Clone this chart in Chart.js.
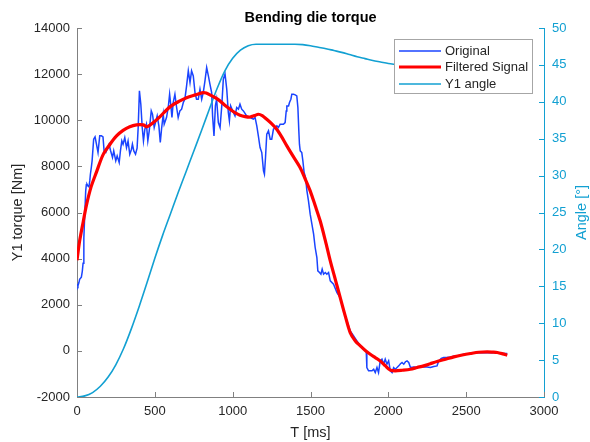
<!DOCTYPE html>
<html>
<head>
<meta charset="utf-8">
<script src="https://cdn.jsdelivr.net/npm/chart.js@4.4.1/dist/chart.umd.min.js"></script>
<style>
  html, body { margin: 0; padding: 0; background: #ffffff; }
  #wrap { width: 590px; height: 442px; }
</style>
</head>
<body>
<div id="wrap"><canvas id="c" width="590" height="442"></canvas></div>
<script>
// ---------- DATA ----------
const TITLE = 'Bending die torque';
const X_LABEL = 'T [ms]';
const Y_LABEL = 'Y1 torque [Nm]';
const Y2_LABEL = 'Angle [°]';
const SERIES_NAMES = ['Original', 'Filtered Signal', 'Y1 angle'];

const X_TICKS = [0, 500, 1000, 1500, 2000, 2500, 3000];
const Y_TICKS = [-2000, 0, 2000, 4000, 6000, 8000, 10000, 12000, 14000];
const Y2_TICKS = [0, 5, 10, 15, 20, 25, 30, 35, 40, 45, 50];

// Original torque signal (time ms, torque Nm)
const ORIG_T = [0,6,12,17,28,34,39,44,50,56,60,64,70,77,82,86,92,97,107,116,125,135,146,157,167,174,185,193,206,215,228,236,249,258,271,279,288,296,307,318,328,339,350,356,365,376,386,393,401,410,419,427,436,446,455,464,477,485,496,507,515,526,535,543,554,560,575,586,595,603,610,618,629,640,650,661,672,683,693,704,715,726,736,747,758,768,779,790,801,811,822,833,844,854,865,871,880,889,897,908,919,930,940,951,962,972,979,987,1000,1015,1026,1037,1047,1058,1069,1090,1112,1133,1144,1155,1165,1176,1187,1198,1204,1211,1219,1230,1241,1251,1262,1273,1284,1294,1305,1316,1326,1337,1344,1348,1359,1365,1374,1380,1391,1402,1412,1419,1425,1429,1434,1444,1451,1459,1468,1477,1487,1498,1509,1520,1530,1541,1547,1558,1567,1575,1584,1595,1605,1616,1627,1648,1670,1691,1712,1734,1755,1777,1798,1820,1841,1858,1862,1873,1895,1906,1916,1927,1937,1948,1959,1970,1980,1991,2002,2013,2024,2034,2045,2067,2078,2088,2099,2110,2120,2131,2142,2163,2185,2206,2227,2249,2270,2292,2313,2324,2340,2356,2378,2399,2420,2442,2463,2485,2506,2528,2560,2592,2625,2657,2690,2721,2745,2764];
const ORIG_V = [2900,2820,2950,3100,3200,3450,3800,4900,5950,6950,7200,7225,7150,7110,7370,7660,7950,8238,9179,9280,8960,8600,9323,9323,9280,8670,8600,8743,8960,8700,8383,8670,8238,8455,8166,8670,9106,8960,9250,8815,9106,8527,8743,8960,8670,8527,8787,9684,11274,10696,9684,9106,9612,9829,9106,9540,10407,10262,9684,9973,10190,9757,9034,9612,10262,9829,10118,10552,11130,10624,10118,10769,11130,10552,10118,10407,10479,10768,10912,11490,12141,11635,12141,11923,11201,10912,10912,11345,10912,11201,11707,12285,11923,11563,11201,10190,9322,10624,10912,9901,9684,10624,11779,12002,11345,10334,9973,10624,10407,10190,10552,10479,10696,10479,10407,10190,10117,10045,10117,9756,9322,8817,8600,7805,7661,8384,9395,9540,9178,9178,9612,9684,9756,9684,9829,9829,9829,9901,10406,10623,10623,10768,10912,11129,11129,11100,11057,10551,9540,8962,8673,8600,8239,7733,7517,6939,6505,5927,5493,5060,4482,4048,3470,3398,3326,3543,3326,3398,3326,3398,3037,2890,2530,2310,1734,1300,867,650,434,217,72,0,-722,-867,-867,-800,-939,-722,-939,-433,-361,-578,-361,-578,-433,-867,-939,-722,-795,-650,-560,-505,-578,-470,-433,-505,-722,-700,-722,-680,-694,-700,-722,-680,-650,-433,-330,-289,-280,-260,-230,-217,-190,-145,-130,-115,-90,-72,-80,-72,-85,-100,-110,-115];

// Filtered torque signal
const FILT_T = [0,17,40,60,90,125,167,211,254,296,339,382,425,451,490,532,597,661,704,760,811,830,854,885,918,950,983,1015,1047,1080,1112,1140,1165,1190,1219,1250,1283,1315,1348,1390,1433,1465,1498,1530,1562,1595,1627,1660,1691,1723,1755,1788,1820,1852,1884,1916,1948,1980,2013,2045,2090,2142,2185,2227,2270,2313,2367,2421,2475,2528,2580,2635,2670,2700,2735,2764];
const FILT_V = [3930,4770,5600,6300,7100,7750,8500,8950,9320,9560,9720,9800,9800,9720,9900,10150,10580,10840,10980,11100,11200,11180,11100,10990,10840,10650,10480,10330,10220,10160,10140,10200,10260,10200,10040,9850,9610,9280,8890,8420,7950,7470,6940,6300,5640,4790,3900,3080,2310,1520,795,430,217,20,-145,-290,-434,-640,-838,-867,-840,-795,-720,-650,-555,-462,-360,-260,-180,-115,-60,-43,-55,-72,-130,-188];

// Y1 angle (deg)
const ANG_T = [0,50,100,150,200,250,300,350,400,450,500,550,600,650,700,750,800,850,900,950,1000,1050,1100,1150,1200,1300,1400,1450,1500,1550,1600,1650,1700,1750,1800,1850,1900,1950,2000,2050,2200,2400,2600,2764];
const ANG_V = [0,0.15,0.6,1.45,2.7,4.4,6.6,9.3,12.3,15.5,18.8,21.9,24.8,27.7,30.5,33.3,36.1,39.0,41.8,44.2,45.9,47.0,47.6,47.8,47.8,47.8,47.8,47.75,47.6,47.4,47.2,46.95,46.7,46.4,46.1,45.85,45.6,45.4,45.2,45.05,44.6,44.1,43.7,43.4];

// ---------- STYLE ----------
const C_ORIG = '#1a44ff';
const C_FILT = '#ff0000';
const C_ANG = '#12a0d2';
const C_TEXT = '#262626';
const C_AXIS = '#808080';
const FONT = "'Liberation Sans', Arial, Helvetica, sans-serif";

const pts = (xs, ys) => xs.map((x, i) => ({ x: x, y: ys[i] }));
const plain = v => String(v);

const insideTicks = {
  id: 'insideTicks',
  beforeDatasetsDraw(chart) {
    const ctx = chart.ctx, a = chart.chartArea;
    const L = 5;
    ctx.save();
    ctx.lineWidth = 1;
    const sx = chart.scales.x;
    ctx.strokeStyle = C_AXIS;
    ctx.beginPath();
    X_TICKS.forEach(v => { const p = Math.round(sx.getPixelForValue(v)) + 0.5; ctx.moveTo(p, a.bottom); ctx.lineTo(p, a.bottom - L); });
    const sy = chart.scales.y;
    Y_TICKS.forEach(v => { const p = Math.round(sy.getPixelForValue(v)) + 0.5; ctx.moveTo(a.left, p); ctx.lineTo(a.left + L, p); });
    ctx.stroke();
    const sy2 = chart.scales.y2;
    ctx.strokeStyle = C_ANG;
    ctx.beginPath();
    Y2_TICKS.forEach(v => { const p = Math.round(sy2.getPixelForValue(v)) + 0.5; ctx.moveTo(a.right, p); ctx.lineTo(a.right - L, p); });
    ctx.stroke();
    ctx.restore();
  }
};

const annotations = {
  id: 'annotations',
  afterDraw(chart) {
    const ctx = chart.ctx, a = chart.chartArea;
    ctx.save();
    ctx.fillStyle = '#000';
    ctx.font = 'bold 14.5px ' + FONT;
    ctx.textAlign = 'center';
    ctx.textBaseline = 'middle';
    ctx.fillText(TITLE, (a.left + a.right) / 2, 18);
    ctx.font = '14.5px ' + FONT;
    ctx.fillStyle = C_TEXT;
    ctx.fillText(X_LABEL, (a.left + a.right) / 2, 433);
    ctx.save();
    ctx.translate(18, (a.top + a.bottom) / 2);
    ctx.rotate(-Math.PI / 2);
    ctx.fillText(Y_LABEL, 0, 0);
    ctx.restore();
    ctx.save();
    ctx.fillStyle = C_ANG;
    ctx.translate(582, (a.top + a.bottom) / 2);
    ctx.rotate(-Math.PI / 2);
    ctx.fillText(Y2_LABEL, 0, 0);
    ctx.restore();

    const bx = 394.5, by = 39.5, bw = 138, bh = 54;
    ctx.fillStyle = '#ffffff';
    ctx.fillRect(bx, by, bw, bh);
    ctx.strokeStyle = '#a6a6a6';
    ctx.lineWidth = 1;
    ctx.strokeRect(bx, by, bw, bh);
    const ds = chart.data.datasets;
    const rows = [51, 67, 84];
    ctx.font = '13px ' + FONT;
    ctx.textAlign = 'left';
    ctx.textBaseline = 'middle';
    SERIES_NAMES.forEach((name, i) => {
      const d = ds.find(dd => dd.label === name);
      ctx.strokeStyle = d.borderColor;
      ctx.lineWidth = d.borderWidth;
      ctx.beginPath();
      ctx.moveTo(399, rows[i]);
      ctx.lineTo(441, rows[i]);
      ctx.stroke();
      ctx.fillStyle = C_TEXT;
      ctx.fillText(name, 445, rows[i] + 0.5);
    });
    ctx.restore();
  }
};

new Chart(document.getElementById('c'), {
  type: 'line',
  data: {
    datasets: [
      { label: SERIES_NAMES[1], data: pts(FILT_T, FILT_V), borderColor: C_FILT, borderWidth: 3.2, pointRadius: 0, tension: 0.3, yAxisID: 'y', order: 1 },
      { label: SERIES_NAMES[2], data: pts(ANG_T, ANG_V), borderColor: C_ANG, borderWidth: 1.6, pointRadius: 0, cubicInterpolationMode: 'monotone', yAxisID: 'y2', order: 2 },
      { label: SERIES_NAMES[0], data: pts(ORIG_T, ORIG_V), borderColor: C_ORIG, borderWidth: 1.5, pointRadius: 0, tension: 0, yAxisID: 'y', order: 3 }
    ]
  },
  options: {
    responsive: false,
    animation: false,
    devicePixelRatio: 1,
    layout: { padding: { top: 28, left: 0, right: 0, bottom: 0 } },
    plugins: { legend: { display: false }, title: { display: false }, tooltip: { enabled: false } },
    scales: {
      x: {
        type: 'linear', min: 0, max: 3000,
        afterBuildTicks: s => { s.ticks = X_TICKS.map(v => ({ value: v })); },
        afterFit: s => { s.height = 45; },
        ticks: { color: C_TEXT, font: { family: FONT, size: 13 }, padding: 7, maxRotation: 0, autoSkip: false, callback: plain },
        grid: { display: true, drawOnChartArea: false, drawTicks: false },
        border: { display: true, color: C_AXIS, width: 1 }
      },
      y: {
        position: 'left', min: -2000, max: 14000,
        afterBuildTicks: s => { s.ticks = Y_TICKS.map(v => ({ value: v })); },
        afterFit: s => { s.width = 77; },
        ticks: { color: C_TEXT, font: { family: FONT, size: 13 }, padding: 7, autoSkip: false, callback: plain },
        grid: { display: true, drawOnChartArea: false, drawTicks: false },
        border: { display: true, color: C_AXIS, width: 1 }
      },
      y2: {
        position: 'right', min: 0, max: 50,
        afterBuildTicks: s => { s.ticks = Y2_TICKS.map(v => ({ value: v })); },
        afterFit: s => { s.width = 46; },
        ticks: { color: C_ANG, font: { family: FONT, size: 13 }, padding: 8, autoSkip: false, callback: plain },
        grid: { display: true, drawOnChartArea: false, drawTicks: false },
        border: { display: true, color: C_ANG, width: 1 }
      }
    }
  },
  plugins: [insideTicks, annotations]
});
</script>
</body>
</html>
